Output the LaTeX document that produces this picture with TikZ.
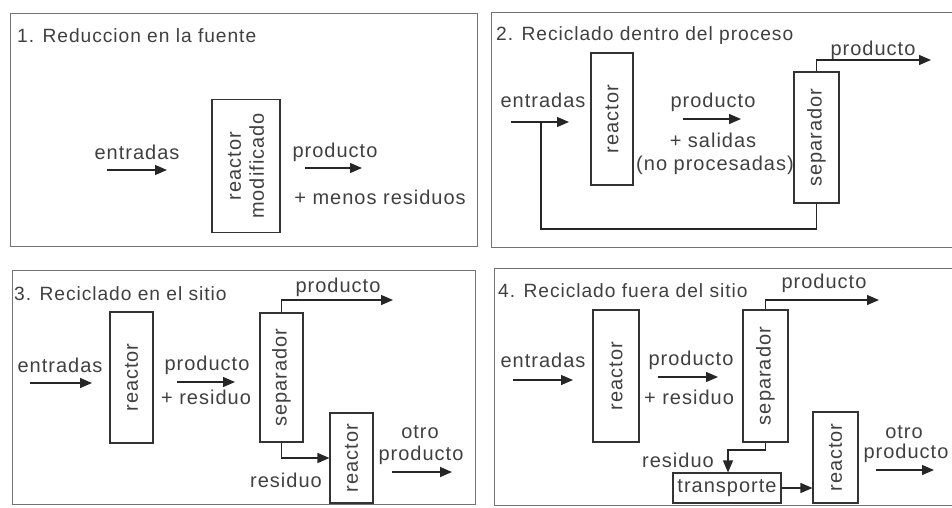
\documentclass[tikz,border=0pt]{standalone}
\usepackage{fontspec}
\setmainfont{Liberation Sans}[LetterSpace=5]
\usetikzlibrary{arrows.meta}
\tikzset{
  x=1pt, y=-1pt,
  every node/.style={font=\fontsize{20}{23}\selectfont, text=black!75},
  panel/.style={draw=black!55, line width=0.9pt, anchor=north west, inner sep=0pt},
  unit/.style={draw=black!80, line width=1.1pt, rotate=90, align=center, inner sep=0pt},
  hbox/.style={draw=black!80, line width=1.1pt, inner sep=0pt},
  lbl/.style={inner sep=0pt},
  ttl/.style={anchor=base west, inner sep=0pt, font=\fontsize{19.2}{22}\selectfont},
  flow/.style={draw=black!85, line width=1.3pt, -{Triangle[length=12pt,width=10pt]}},
  pipe/.style={draw=black!85, line width=1.1pt},
}
\begin{document}
\begin{tikzpicture}
\clip (0,0) rectangle (952,508);
\fill[white] (0,0) rectangle (952,508);

% panels
\node[panel, minimum width=467pt, minimum height=233pt] (p1) at (10,13) {};
\node[panel, minimum width=480pt, minimum height=235pt] (p2) at (491,12) {};
\node[panel, minimum width=463pt, minimum height=234pt] (p3) at (12,270) {};
\node[panel, minimum width=480pt, minimum height=237pt] (p4) at (494,268) {};

% ---------- panel 1
\node[ttl] (t1) at (17,43) {1. Reduccion en la fuente};
\node[lbl] (e1) at (137,152) {entradas};
\coordinate (e1a) at (107,170); \coordinate (e1b) at (167,170);
\draw[flow] (e1a) -- (e1b);
\node[unit, minimum width=133pt, minimum height=68pt] (rm) at (246,166) {reactor\\modificado};
\node[lbl] (pr1) at (335,152) {producto};
\coordinate (pr1a) at (305,168); \coordinate (pr1b) at (362,168);
\draw[flow] (pr1a) -- (pr1b);
\node[lbl] (mr1) at (380,197) {+ menos residuos};

% ---------- panel 2
\node[ttl] (t2) at (496,41) {2. Reciclado dentro del proceso};
\node[lbl] (e2) at (543,100) {entradas};
\coordinate (e2a) at (511,122); \coordinate (e2b) at (569,122);
\draw[flow] (e2a) -- (e2b);
\coordinate (e2j) at (541,122);
\node[unit, minimum width=132pt, minimum height=42pt] (r2) at (612,119) {reactor};
\node[lbl] (pr2) at (713,102) {producto};
\coordinate (pr2a) at (683,119); \coordinate (pr2b) at (741,119);
\draw[flow] (pr2a) -- (pr2b);
\node[lbl] (sa2) at (713,140) {+ salidas};
\node[lbl] (np2) at (715,165) {(no procesadas)};
\node[unit, minimum width=131pt, minimum height=45pt] (s2) at (816.5,137.5) {separador};
\node[lbl] (po2) at (873,50) {producto};
\coordinate (po2b) at (931,60);
\draw[flow] (s2.east) |- (po2b);
\coordinate (rc2) at (541,229);
\draw[pipe] (s2.west) |- (rc2) -- (e2j);

% ---------- panel 3
\node[ttl] (t3) at (14,300) {3. Reciclado en el sitio};
\node[lbl] (e3) at (60,365) {entradas};
\coordinate (e3a) at (30,383); \coordinate (e3b) at (92,383);
\draw[flow] (e3a) -- (e3b);
\node[unit, minimum width=131pt, minimum height=43pt] (r3) at (131.5,377.5) {reactor};
\node[lbl] (pr3) at (207,365) {producto};
\coordinate (pr3a) at (177,382); \coordinate (pr3b) at (235,382);
\draw[flow] (pr3a) -- (pr3b);
\node[lbl] (rs3) at (206,397) {+ residuo};
\node[unit, minimum width=129pt, minimum height=43pt] (s3) at (281.5,377.5) {separador};
\node[lbl] (po3) at (338,287) {producto};
\coordinate (po3b) at (393,300);
\draw[flow] (s3.east) |- (po3b);
\node[unit, minimum width=90pt, minimum height=43pt] (r3b) at (351.5,458) {reactor};
\draw[flow] (s3.west) |- (r3b.north);
\node[lbl] (rd3) at (286,480) {residuo};
\node[lbl] (ot3) at (420,432) {otro};
\node[lbl] (op3) at (421,455) {producto};
\coordinate (op3a) at (392,472); \coordinate (op3b) at (452,472);
\draw[flow] (op3a) -- (op3b);

% ---------- panel 4
\node[ttl] (t4) at (498,297) {4. Reciclado fuera del sitio};
\node[lbl] (e4) at (543,360) {entradas};
\coordinate (e4a) at (513,380); \coordinate (e4b) at (573,380);
\draw[flow] (e4a) -- (e4b);
\node[unit, minimum width=132pt, minimum height=46pt] (r4) at (616,376) {reactor};
\node[lbl] (pr4) at (691,360) {producto};
\coordinate (pr4a) at (658,377); \coordinate (pr4b) at (718,377);
\draw[flow] (pr4a) -- (pr4b);
\node[lbl] (rs4) at (689,397) {+ residuo};
\node[unit, minimum width=132pt, minimum height=45pt] (s4) at (765.5,376) {separador};
\node[lbl] (po4) at (824,283) {producto};
\coordinate (po4b) at (879,300);
\draw[flow] (s4.east) |- (po4b);
\node[hbox, minimum width=108pt, minimum height=30pt] (tr4) at (727,488) {transporte};
\coordinate (rj4) at (728,450);
\draw[flow] (s4.west) |- (rj4) -- (tr4.north -| rj4);
\node[lbl] (rd4) at (678,460) {residuo};
\node[unit, minimum width=91pt, minimum height=45pt] (r4b) at (835.5,457.5) {reactor};
\draw[flow] (tr4.east) -- (tr4.east -| r4b.north);
\node[lbl] (ot4) at (904,432) {otro};
\node[lbl] (op4) at (906,453) {producto};
\coordinate (op4a) at (876,470); \coordinate (op4b) at (934,470);
\draw[flow] (op4a) -- (op4b);
\end{tikzpicture}
\end{document}
